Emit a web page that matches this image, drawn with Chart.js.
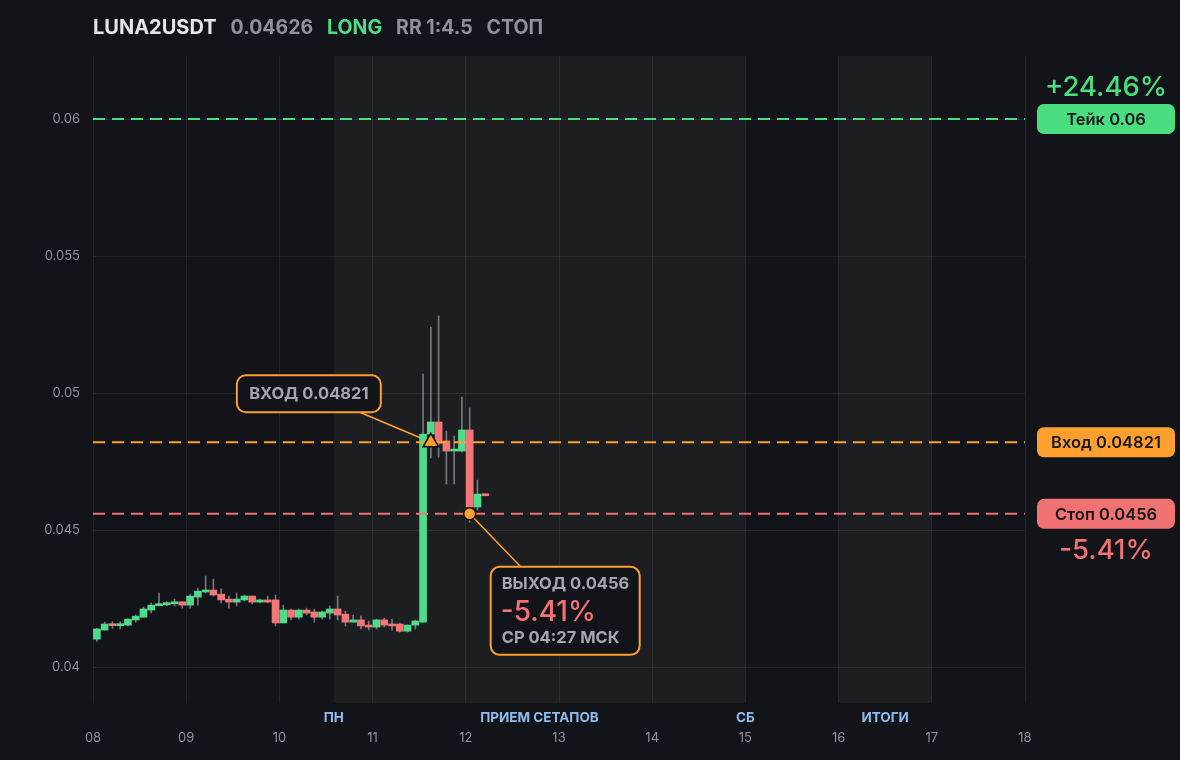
<!DOCTYPE html>
<html>
<head>
<meta charset="utf-8">
<script src="https://cdn.jsdelivr.net/npm/chart.js@4.4.0/dist/chart.umd.min.js"></script>
<style>
  html, body { margin: 0; padding: 0; background: #131419; }
  #wrap { width: 1180px; height: 760px; position: relative; }
</style>
</head>
<body>
<div id="wrap"><canvas id="chart"></canvas></div>
<script>
// ===== DATA =====
const symbol = "LUNA2USDT";
const lastPrice = 0.04626;
const side = "LONG";
const status = "СТОП";
const exitTimeLabel = "СР 04:27 МСК";

// 2h candles, hours counted from day 08 00:00
const startDay = 8;
const candleHours = 2;
const hours = [0, 2, 4, 6, 8, 10, 12, 14, 16, 18, 20, 22,
  24, 26, 28, 30, 32, 34, 36, 38, 40, 42, 44, 46,
  48, 50, 52, 54, 56, 58, 60, 62, 64, 66, 68, 70,
  72, 74, 76, 78, 80, 82, 84, 86, 88, 90, 92, 94,
  96, 98, 100];
const opens = [0.04103, 0.04136, 0.04158, 0.04152, 0.04154, 0.04173, 0.04183, 0.04209, 0.04225, 0.04228, 0.04232, 0.04239,
  0.04227, 0.04256, 0.04275, 0.04282, 0.04267, 0.04249, 0.04238, 0.04246, 0.04260, 0.04238, 0.04246, 0.04246,
  0.04162, 0.04209, 0.04183, 0.04209, 0.04202, 0.04183, 0.04198, 0.04213, 0.04194, 0.04165, 0.04173, 0.04154,
  0.04147, 0.04173, 0.04158, 0.04158, 0.04132, 0.04154, 0.04165, 0.04851, 0.04895, 0.04826, 0.04789, 0.04789,
  0.04866, 0.04585, 0.04632];
const highs = [0.04142, 0.04165, 0.04166, 0.04166, 0.04178, 0.04191, 0.04220, 0.04235, 0.04271, 0.04240, 0.04249, 0.04240,
  0.04267, 0.04289, 0.04333, 0.04322, 0.04286, 0.04260, 0.04271, 0.04264, 0.04260, 0.04249, 0.04260, 0.04264,
  0.04227, 0.04213, 0.04213, 0.04216, 0.04213, 0.04205, 0.04224, 0.04260, 0.04205, 0.04191, 0.04187, 0.04169,
  0.04176, 0.04180, 0.04176, 0.04162, 0.04155, 0.04173, 0.05070, 0.05241, 0.05282, 0.04862, 0.04844, 0.04986,
  0.04946, 0.04683, 0.04632];
const lows = [0.04095, 0.04136, 0.04142, 0.04140, 0.04152, 0.04165, 0.04183, 0.04198, 0.04224, 0.04225, 0.04224, 0.04216,
  0.04216, 0.04227, 0.04271, 0.04260, 0.04235, 0.04216, 0.04224, 0.04242, 0.04231, 0.04235, 0.04235, 0.04151,
  0.04162, 0.04173, 0.04176, 0.04191, 0.04165, 0.04176, 0.04176, 0.04173, 0.04151, 0.04165, 0.04140, 0.04136,
  0.04140, 0.04147, 0.04136, 0.04129, 0.04129, 0.04140, 0.04165, 0.04764, 0.04767, 0.04669, 0.04669, 0.04786,
  0.04530, 0.04574, 0.04626];
const closes = [0.04140, 0.04158, 0.04152, 0.04157, 0.04176, 0.04187, 0.04213, 0.04227, 0.04232, 0.04236, 0.04239, 0.04227,
  0.04260, 0.04278, 0.04282, 0.04264, 0.04246, 0.04238, 0.04249, 0.04260, 0.04238, 0.04246, 0.04238, 0.04162,
  0.04209, 0.04183, 0.04209, 0.04198, 0.04183, 0.04202, 0.04213, 0.04191, 0.04165, 0.04173, 0.04151, 0.04147,
  0.04173, 0.04154, 0.04151, 0.04132, 0.04154, 0.04169, 0.04851, 0.04895, 0.04818, 0.04789, 0.04793, 0.04866,
  0.04585, 0.04632, 0.04626];

const takePrice = 0.06;
const entryPrice = 0.04821;
const stopPrice = 0.0456;
const entryIndex = 43;
const exitIndex = 48;

const xTicks = [8, 9, 10, 11, 12, 13, 14, 15, 16, 17, 18];
const yTicks = [0.04, 0.045, 0.05, 0.055, 0.06];
const yMin = 0.0387, yMax = 0.0623;

// session shading (days) and their captions
const bandStarts = [10.583, 16];
const bandEnds = [15, 17];
const bandLabelText = ["ПН", "ПРИЕМ СЕТАПОВ", "СБ", "ИТОГИ"];
const bandLabelAt = [10.583, 12.79, 15, 16.5];

// ===== COLORS =====
const GREEN = "#4fdc8a";
const RED = "#f47676";
const ORANGE = "#ffa02e";
const BG = "#131419";
const GREY = "#8f929a";

const candleX = i => startDay + (hours[i] + candleHours / 2) / 24;
const pct = (a, b) => (a - b) / b * 100;
const takePct = pct(takePrice, entryPrice);
const stopPct = pct(stopPrice, entryPrice);
const rr = takePct / -stopPct;

const bodies = hours.map((h, i) => ({ x: candleX(i), y: [opens[i], closes[i]] }));
const wicks = hours.map((h, i) => ({ x: candleX(i), y: [lows[i], highs[i]] }));
const upDown = hours.map((h, i) => closes[i] >= opens[i] ? GREEN : RED);

const hLine = v => [{ x: xTicks[0], y: v }, { x: xTicks[xTicks.length - 1], y: v }];

function pill(ctx, x, y, w, h, r, color, text) {
  ctx.fillStyle = color;
  ctx.beginPath();
  ctx.roundRect(x, y, w, h, r);
  ctx.fill();
  ctx.fillStyle = "#16171a";
  ctx.font = "600 16.5px Inter";
  ctx.textAlign = "center";
  ctx.textBaseline = "middle";
  ctx.fillText(text, x + w / 2, y + h / 2 + 1);
}

function box(ctx, x, y, w, h) {
  ctx.fillStyle = BG;
  ctx.strokeStyle = ORANGE;
  ctx.lineWidth = 2;
  ctx.beginPath();
  ctx.roundRect(x, y, w, h, 9);
  ctx.fill();
  ctx.stroke();
}

// ===== PLUGIN: background, bands, labels =====
const decor = {
  id: "decor",
  beforeDraw(chart) {
    const { ctx, chartArea: a, scales: { x } } = chart;
    ctx.save();
    ctx.fillStyle = BG;
    ctx.fillRect(0, 0, chart.width, chart.height);
    ctx.fillStyle = "rgba(255,255,255,0.045)";
    bandStarts.forEach((s, i) => {
      const x1 = x.getPixelForValue(s), x2 = x.getPixelForValue(bandEnds[i]);
      ctx.fillRect(x1, a.top, x2 - x1, a.bottom - a.top);
    });
    ctx.restore();
  },
  beforeDatasetsDraw(chart) {
    const { ctx, scales: { x, y } } = chart;
    const ex = x.getPixelForValue(candleX(entryIndex)), ey = y.getPixelForValue(entryPrice);
    const sx = x.getPixelForValue(candleX(exitIndex)), sy = y.getPixelForValue(stopPrice);
    ctx.save();
    ctx.strokeStyle = ORANGE;
    ctx.lineWidth = 1.5;
    ctx.beginPath();
    ctx.moveTo(ex - 71, ey - 30);
    ctx.lineTo(ex, ey);
    ctx.moveTo(sx, sy);
    ctx.lineTo(sx + 51, sy + 53);
    ctx.stroke();
    ctx.restore();
  },
  afterDraw(chart) {
    const { ctx, chartArea: a, scales: { x, y } } = chart;
    ctx.save();

    // header
    ctx.textBaseline = "middle";
    ctx.textAlign = "left";
    ctx.font = "bold 20px Inter";
    const parts = [
      [symbol, "#e6e7ea"],
      [lastPrice.toString(), GREY],
      [side, GREEN],
      ["RR 1:" + rr.toFixed(1), GREY],
      [status, GREY]
    ];
    let hx = a.left;
    parts.forEach(([t, c], i) => {
      ctx.fillStyle = c;
      ctx.font = i === 0 ? "bold 20px Inter" : "bold 19.5px Inter";
      ctx.fillText(t, hx, 28);
      hx += ctx.measureText(t).width + 14;
    });

    // session captions
    ctx.font = "bold 13.5px Inter";
    ctx.fillStyle = "#8fbbef";
    ctx.textAlign = "center";
    bandLabelText.forEach((t, i) => {
      ctx.fillText(t, x.getPixelForValue(bandLabelAt[i]), a.bottom + 15);
    });

    // right side price tags
    const px = a.right + 12, pw = 138, ph = 30;
    const ty = y.getPixelForValue(takePrice);
    const ey = y.getPixelForValue(entryPrice);
    const sy = y.getPixelForValue(stopPrice);
    pill(ctx, px, ty - ph / 2, pw, ph, 7, "#4ade80", "Тейк " + takePrice);
    pill(ctx, px, ey - ph / 2, pw, ph, 7, ORANGE, "Вход " + entryPrice);
    pill(ctx, px, sy - ph / 2, pw, ph, 7, "#f07272", "Стоп " + stopPrice);
    ctx.font = "500 27.5px Inter";
    ctx.textAlign = "center";
    ctx.fillStyle = "#4ade80";
    ctx.fillText("+" + takePct.toFixed(2) + "%", px + pw / 2, ty - 31);
    ctx.fillStyle = "#f07272";
    ctx.fillText(stopPct.toFixed(2) + "%", px + pw / 2, sy + 37);

    // entry callout
    const ex = x.getPixelForValue(candleX(entryIndex));
    box(ctx, ex - 194, ey - 67, 144, 37);
    ctx.font = "bold 16.5px Inter";
    ctx.fillStyle = "#a3a6ad";
    ctx.textAlign = "center";
    ctx.fillText("ВХОД " + entryPrice, ex - 194 + 72, ey - 67 + 19);

    // exit callout
    const sx = x.getPixelForValue(candleX(exitIndex));
    const bx = sx + 21, by = sy + 53;
    box(ctx, bx, by, 149, 88);
    ctx.textAlign = "left";
    ctx.fillStyle = "#a3a6ad";
    ctx.font = "bold 16.5px Inter";
    ctx.fillText("ВЫХОД " + stopPrice, bx + 11, by + 17);
    ctx.fillStyle = "#f07272";
    ctx.font = "500 28px Inter";
    ctx.fillText(stopPct.toFixed(2) + "%", bx + 10, by + 46);
    ctx.fillStyle = "#a3a6ad";
    ctx.font = "bold 16.5px Inter";
    ctx.fillText(exitTimeLabel, bx + 11, by + 71);

    ctx.restore();
  }
};

// ===== CHART =====
const chart = new Chart(document.getElementById("chart"), {
  type: "bar",
  data: {
    datasets: [
      {
        label: "wicks",
        data: wicks,
        backgroundColor: "rgba(150,152,158,0.75)",
        barThickness: 1,
        grouped: false,
        order: 6
      },
      {
        label: "bodies",
        data: bodies,
        backgroundColor: upDown,
        barThickness: 7,
        minBarLength: 2,
        grouped: false,
        order: 5
      },
      {
        type: "line", label: "take", data: hLine(takePrice),
        borderColor: "#4ade80", borderWidth: 2, borderDash: [12, 7], pointRadius: 0, order: 3
      },
      {
        type: "line", label: "entry", data: hLine(entryPrice),
        borderColor: ORANGE, borderWidth: 2, borderDash: [12, 7], pointRadius: 0, order: 3
      },
      {
        type: "line", label: "stop", data: hLine(stopPrice),
        borderColor: "#f07272", borderWidth: 2, borderDash: [12, 7], pointRadius: 0, order: 3
      },
      {
        type: "scatter", label: "entryMark",
        data: [{ x: candleX(entryIndex), y: entryPrice }],
        pointStyle: "triangle", pointRadius: 9,
        backgroundColor: ORANGE, borderColor: "#111", borderWidth: 1.5, order: 1
      },
      {
        type: "scatter", label: "exitMark",
        data: [{ x: candleX(exitIndex), y: stopPrice }],
        pointStyle: "circle", pointRadius: 6,
        backgroundColor: ORANGE, borderColor: "#111", borderWidth: 1.5, order: 1
      }
    ]
  },
  options: {
    responsive: true,
    maintainAspectRatio: false,
    animation: false,
    layout: { padding: { top: 56, right: 155, left: 0, bottom: 0 } },
    plugins: { legend: { display: false }, tooltip: { enabled: false } },
    scales: {
      x: {
        type: "linear",
        min: xTicks[0],
        max: xTicks[xTicks.length - 1],
        offset: false,
        border: { display: false },
        grid: { offset: false, color: "rgba(255,255,255,0.07)", drawTicks: false },
        afterBuildTicks: s => { s.ticks = xTicks.map(v => ({ value: v })); },
        afterFit: s => { s.height = 57; },
        ticks: {
          color: GREY,
          font: { family: "Inter", size: 13 },
          padding: 27,
          maxRotation: 0,
          callback: v => String(v).padStart(2, "0")
        }
      },
      y: {
        type: "linear",
        min: yMin,
        max: yMax,
        border: { display: false },
        grid: { color: "rgba(255,255,255,0.07)", drawTicks: false },
        afterBuildTicks: s => { s.ticks = yTicks.map(v => ({ value: v })); },
        afterFit: s => { s.width = 93; },
        ticks: {
          color: GREY,
          font: { family: "Inter", size: 13 },
          padding: 13,
          callback: v => String(+v.toFixed(4))
        }
      }
    }
  },
  plugins: [decor]
});
</script>
</body>
</html>
